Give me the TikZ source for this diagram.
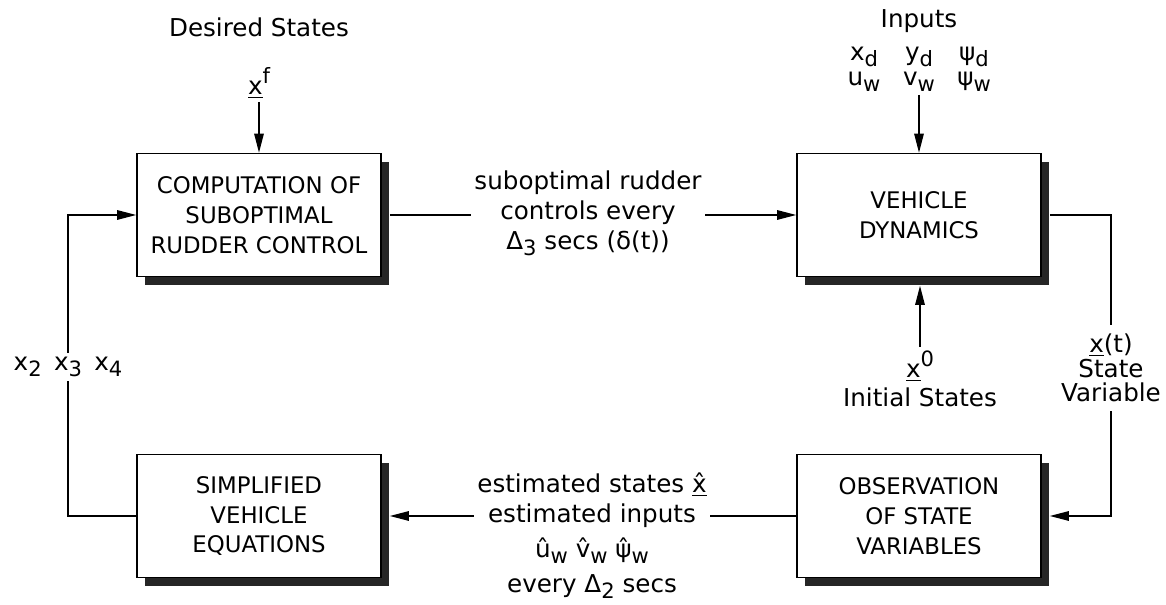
\documentclass[tikz,border=0pt]{standalone}
\usepackage{fontspec}
\setmainfont{DejaVu Sans}
\usetikzlibrary{arrows.meta,calc,positioning,shadows}

\newcommand{\lo}[1]{\raisebox{-0.45ex}{\fontsize{12}{12}\selectfont #1}}
\newcommand{\hi}[1]{\raisebox{0.85ex}{\fontsize{12}{12}\selectfont #1}}
\newcommand{\vecx}{\underline{x}}

\begin{document}
\begin{tikzpicture}[
    x=1cm,
    y=1cm,
    arrow/.style={-{Triangle[length=3.8mm,width=1.9mm]}, line width=0.7pt},
    link/.style={line width=0.7pt},
    block/.style={draw, line width=0.9pt, fill=white, minimum width=4.88cm, minimum height=2.46cm,
      align=center, font=\fontsize{13}{17}\selectfont,
      drop shadow={shadow xshift=0.16cm, shadow yshift=-0.17cm, fill=black!85, opacity=1}},
    note/.style={align=center, font=\fontsize{14}{17}\selectfont, inner sep=2pt}
  ]
    \useasboundingbox (0,0) rectangle (23.32,12.1);

    % blocks
    \node[block] (compute) at (5.18,7.8) {COMPUTATION OF\\SUBOPTIMAL\\RUDDER CONTROL};
    \node[block] (vehicle) at (18.38,7.8) {VEHICLE\\DYNAMICS};
    \node[block] (simple) at (5.18,1.78) {SIMPLIFIED\\VEHICLE\\EQUATIONS};
    \node[block] (observe) at (18.38,1.78) {OBSERVATION\\OF STATE\\VARIABLES};

    % outer labels
    \node[note] (desired) at (5.18,11.56) {Desired States};
    \node[note] (xf) at (5.18,10.45) {\vecx\hi{f}};
    \node[note, anchor=south] (inputs) at (18.38,10.2) {Inputs\\[2pt]
      \makebox[1.1cm]{x\lo{d}}\makebox[1.1cm]{y\lo{d}}\makebox[1.1cm]{ψ\lo{d}}\\[-3pt]
      \makebox[1.1cm]{u\lo{w}}\makebox[1.1cm]{v\lo{w}}\makebox[1.1cm]{ψ\lo{w}}};
    \node[note, anchor=north] (xzero) at (18.4,5.16) {\vecx\hi{0}\\[-1pt]Initial States};
    \node[note, inner ysep=5pt, font=\fontsize{14}{14}\selectfont] (xt) at (22.22,4.74) {\vecx(t)\\State\\Variable};
    \node[note] (xs) at (1.36,4.76) {x\lo{2}\enspace x\lo{3}\enspace x\lo{4}};
    \node[note] (ctrl) at (11.76,7.84) {suboptimal rudder\\controls every\\Δ\lo{3} secs (δ(t))};
    \node[note] (est) at (11.84,1.38) {estimated states \underline{\^{x}}\\
      estimated inputs\\[3pt]
      \^{u}\lo{w} \^{v}\lo{w} \^{ψ}\lo{w}\\[3pt]
      every Δ\lo{2} secs};

    \coordinate (vehicle-base) at ($(vehicle.south)+(0,-0.17)$);

    % connectors
    \draw[arrow] (compute.north |- xf.south) -- (compute.north);
    \draw[arrow] (vehicle.north |- inputs.south) -- (vehicle.north);
    \draw[arrow] (xzero.north) -- (xzero.north |- vehicle-base);
    \draw[link] ($(compute.east)+(0.16,0)$) -- (ctrl.west |- compute.east);
    \draw[arrow] (ctrl.east |- vehicle.west) -- (vehicle.west);
    \draw[link] ($(vehicle.east)+(0.16,0)$) -| (xt.north);
    \draw[arrow] (xt.south) |- ($(observe.east)+(0.16,0)$);
    \draw[link] (observe.west) -- (observe.west -| est.east);
    \draw[arrow] (observe.west -| est.west) -- ($(simple.east)+(0.16,0)$);
    \draw[link] (simple.west) -| (xs.south);
    \draw[arrow] (xs.north) |- (compute.west);

\end{tikzpicture}
\end{document}
